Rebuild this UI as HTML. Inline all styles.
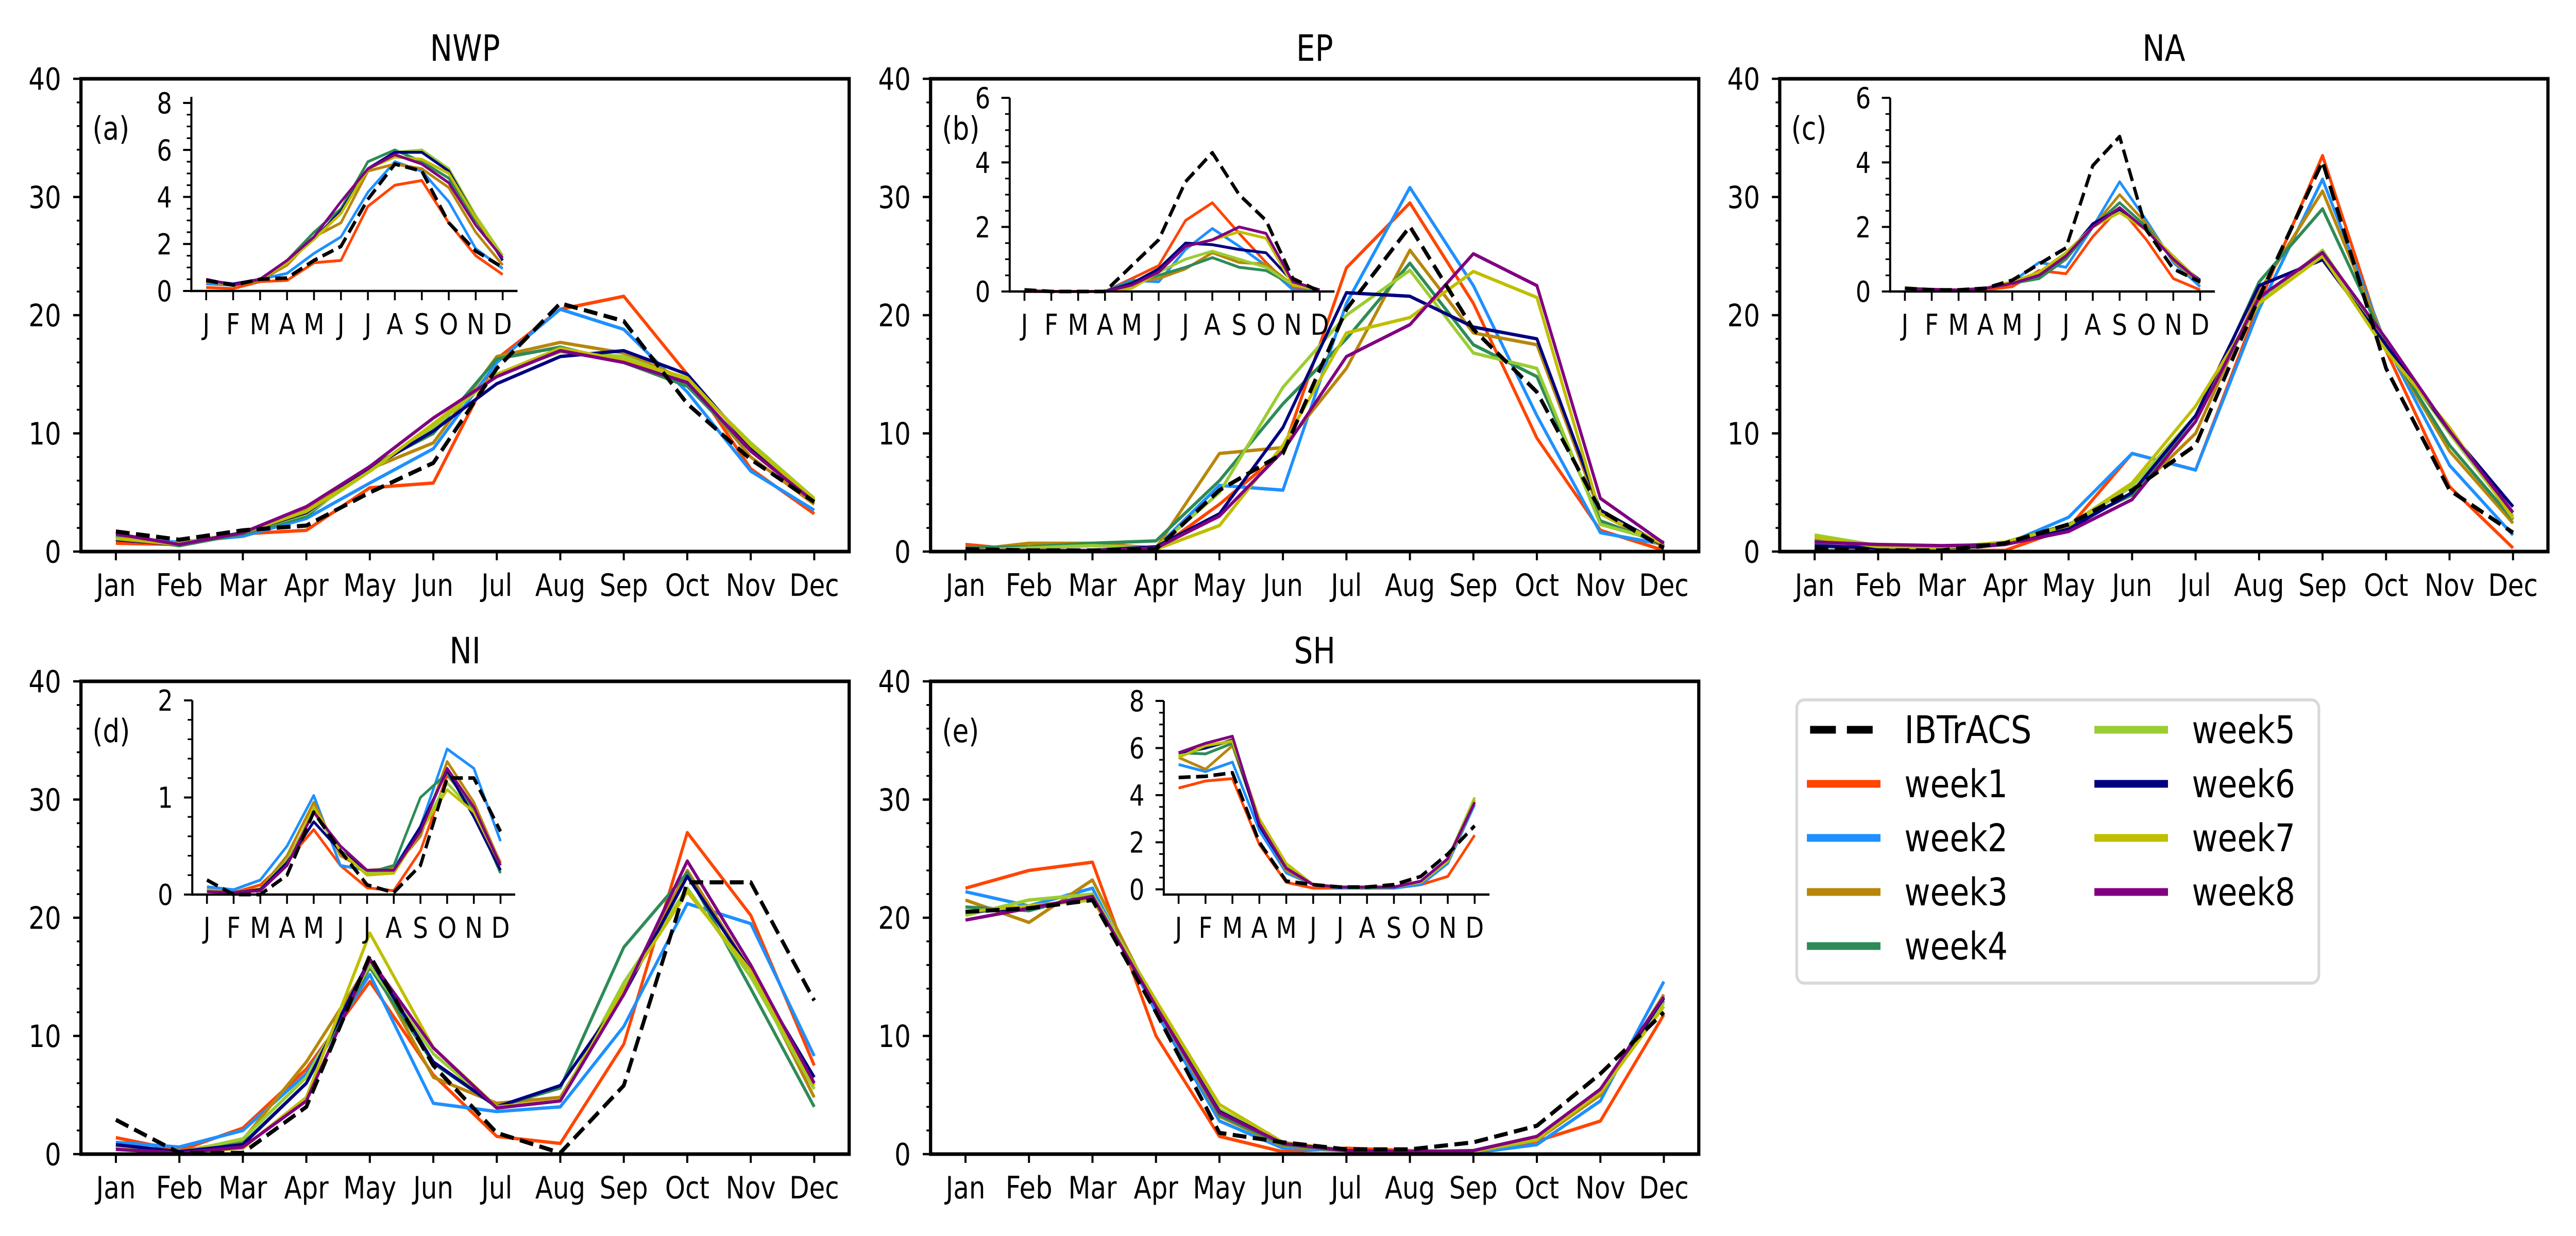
<!DOCTYPE html>
<html><head><meta charset="utf-8"><style>
html,body{margin:0;padding:0;background:#fff;width:100%;height:100%;overflow:hidden;}
svg{display:block;width:100vw;height:100vh;font-family:"DejaVu Sans","Liberation Sans",sans-serif;}
</style></head><body>
<svg id="fig" viewBox="0 0 5600 2400" preserveAspectRatio="none" xmlns="http://www.w3.org/2000/svg"></svg>
<script>
const months = ["Jan","Feb","Mar","Apr","May","Jun","Jul","Aug","Sep","Oct","Nov","Dec"];
const monthLetters = ["J","F","M","A","M","J","J","A","S","O","N","D"];
const seriesNames = ["IBTrACS","week1","week2","week3","week4","week5","week6","week7","week8"];
const seriesColors = ["#000000","#FF4500","#1E90FF","#B8860B","#2E8B57","#9ACD32","#000080","#BFBF00","#800080"];

// NWP main
const nwpIbt = [1.7,1.0,1.8,2.2,5.0,7.5,15.5,21,19.5,12.5,7.8,4.2];
const nwpW1 = [0.7,0.6,1.5,1.8,5.4,5.8,16.3,20.5,21.6,15,7,3.2];
const nwpW2 = [1.0,0.8,1.3,2.8,5.8,8.7,16,20.5,18.8,13.5,6.8,3.5];
const nwpW3 = [1.2,0.5,1.5,3.6,7.0,9.2,16.5,17.7,16.8,14.5,8,4];
const nwpW4 = [1.3,0.5,1.5,3.0,7.2,10,16.3,17.3,16,14,8.5,4.3];
const nwpW5 = [1.1,0.7,1.6,3.2,6.8,10.5,15,16.9,16.5,14.5,9.2,4.5];
const nwpW6 = [1.0,0.6,1.6,3.3,7,10.2,14.2,16.5,17,15,8.8,4.2];
const nwpW7 = [1.1,0.6,1.6,3.4,6.8,10.8,15,17.2,16.2,14.7,9,4.4];
const nwpW8 = [1.5,0.6,1.6,3.8,7.2,11.3,14.8,17,16,14.3,8.5,4.2];
// NWP inset
const nwpInIbt = [0.45,0.25,0.5,0.55,1.3,1.9,3.9,5.4,5.1,2.9,1.7,1.0];
const nwpInW1 = [0.15,0.1,0.4,0.45,1.2,1.3,3.6,4.5,4.7,2.9,1.5,0.7];
const nwpInW2 = [0.3,0.25,0.5,0.75,1.6,2.3,4.2,5.5,5.1,3.8,1.8,0.95];
const nwpInW3 = [0.4,0.25,0.45,1.1,2.3,2.9,5.1,5.4,5.2,4.4,2.5,1.1];
const nwpInW4 = [0.45,0.25,0.5,1.3,2.5,3.5,5.5,6.0,5.5,4.8,3.0,1.5];
const nwpInW5 = [0.45,0.25,0.5,1.3,2.3,3.3,5.2,5.9,6.0,5.2,3.2,1.5];
const nwpInW6 = [0.45,0.3,0.5,1.3,2.2,3.4,5.2,5.9,5.9,5.1,3.1,1.3];
const nwpInW7 = [0.45,0.25,0.5,1.2,2.2,3.3,5.2,5.7,5.6,5.0,3.1,1.4];
const nwpInW8 = [0.5,0.25,0.5,1.3,2.3,3.8,5.2,5.8,5.4,4.6,2.8,1.4];

// EP main
const epIbt = [0.2,0.1,0.1,0.2,5.2,8.3,20.5,27.5,18.8,13.5,3.5,0.3];
const epW1 = [0.6,0.1,0.1,0.1,4.0,8.5,24,29.5,21,9.6,1.8,0.1];
const epW2 = [0.1,0.1,0.1,0.3,5.6,5.2,21,30.8,22.5,11.5,1.6,0.6];
const epW3 = [0.1,0.7,0.7,0.3,8.3,8.8,15.5,25.5,18.5,17.5,3.2,0.4];
const epW4 = [0.3,0.4,0.7,0.9,6.0,12.5,18,24.4,17.5,14.8,2.6,0.6];
const epW5 = [0.1,0.3,0.5,0.3,5.0,13.9,20.0,23.8,16.8,15.5,2.3,0.8];
const epW6 = [0.1,0.1,0.1,0.4,3.2,10.5,21.9,21.6,19,18,3.5,0.5];
const epW7 = [0.1,0.1,0.1,0.2,2.2,9.0,18.5,19.8,23.7,21.5,3.2,0.6];
const epW8 = [0.1,0.1,0.1,0.3,3.0,8.5,16.5,19.2,25.2,22.5,4.5,0.7];
// EP inset
const epInIbt = [0.05,0,0,0,0.8,1.6,3.4,4.3,3.0,2.2,0.4,0];
const epInW1 = [0.05,0,0,0,0.4,0.8,2.2,2.75,1.8,0.9,0.1,0.02];
const epInW2 = [0,0,0,0,0.35,0.3,1.3,1.95,1.4,0.8,0.05,0.02];
const epInW3 = [0,0,0,0,0.3,0.4,0.7,1.2,0.9,0.85,0.2,0.05];
const epInW4 = [0,0,0,0,0.3,0.5,0.75,1.05,0.75,0.65,0.2,0.05];
const epInW5 = [0,0,0,0,0.2,0.6,1.0,1.25,1.0,0.75,0.2,0.05];
const epInW6 = [0,0,0,0,0.25,0.7,1.5,1.45,1.3,1.2,0.3,0.05];
const epInW7 = [0,0,0,0,0.1,0.6,1.4,1.6,1.85,1.65,0.2,0.05];
const epInW8 = [0,0,0,0,0.2,0.6,1.4,1.6,2.0,1.8,0.3,0.05];

// NA main
const naIbt = [0.3,0.1,0.1,0.7,2.3,5.2,9.0,21.5,33,15.5,5.2,1.6];
const naW1 = [0.1,0.1,0.1,0.1,2.0,8.3,6.9,21,33.5,17,5.5,0.3];
const naW2 = [0.1,0.1,0.1,0.6,2.9,8.3,6.9,20.5,31.5,17.5,7.3,1.4];
const naW3 = [0.5,0.2,0.2,0.6,2.2,4.8,10,22,30.5,17.5,8.5,2.4];
const naW4 = [1.0,0.4,0.3,0.8,2.3,4.8,11,22.8,29,17.5,9,2.7];
const naW5 = [1.4,0.5,0.3,0.8,2.2,5.5,11.5,21,25.5,17.5,10,3];
const naW6 = [0.5,0.3,0.3,0.6,1.9,5,11.5,22.5,24.7,17.5,10.2,3.8];
const naW7 = [1.2,0.4,0.3,0.8,2.2,5.8,12.3,21,25,17,10.5,2.8];
const naW8 = [0.8,0.6,0.5,0.6,1.7,4.4,11,21.5,25.3,18,10.2,3.3];
// NA inset
const naInIbt = [0.1,0.05,0.05,0.1,0.35,0.85,1.35,3.9,4.8,1.9,0.7,0.3];
const naInW1 = [0.1,0.02,0.02,0.05,0.15,0.65,0.55,1.7,2.6,1.6,0.4,0.05];
const naInW2 = [0.1,0.05,0.05,0.1,0.3,0.9,0.75,2.0,3.4,2.2,0.9,0.15];
const naInW3 = [0.1,0.05,0.05,0.1,0.25,0.55,1.0,2.0,3.0,2.1,0.95,0.25];
const naInW4 = [0.1,0.05,0.05,0.1,0.25,0.4,1.0,2.0,2.75,2.0,1.0,0.3];
const naInW5 = [0.12,0.05,0.05,0.1,0.25,0.5,1.2,2.0,2.5,1.9,1.0,0.3];
const naInW6 = [0.1,0.05,0.05,0.1,0.25,0.5,1.1,2.1,2.55,1.9,1.0,0.35];
const naInW7 = [0.1,0.05,0.05,0.1,0.3,0.6,1.2,2.0,2.45,1.9,1.1,0.3];
const naInW8 = [0.1,0.07,0.05,0.1,0.25,0.5,1.1,2.0,2.6,1.9,1.0,0.3];

// NI main
const niIbt = [2.9,0.1,0.1,4.0,16.8,7.5,1.8,0.1,5.8,23,23,13];
const niW1 = [1.4,0.3,2.2,7.2,14.6,6.7,1.5,0.9,9.3,27.2,20.2,7.5];
const niW2 = [1.0,0.6,2.0,6.8,15.2,4.3,3.6,4.0,10.8,21.2,19.5,8.3];
const niW3 = [0.7,0.2,1.2,7.8,16.2,6.5,4.3,4.8,13.5,24,15.5,4.8];
const niW4 = [0.6,0.2,0.9,6.0,15.8,7.7,4.0,5.6,17.5,23.8,14,4.0];
const niW5 = [0.5,0.1,1.3,6.5,16,8.5,3.9,4.5,14.5,22.5,15,5.5];
const niW6 = [0.8,0.2,0.8,6.0,16.5,7.8,4.0,5.8,13.5,23.5,15.5,6.5];
const niW7 = [0.4,0.1,0.5,4.8,18.7,9.0,4.0,4.5,14,22.2,15.5,5.8];
const niW8 = [0.4,0.1,0.6,4.5,16.5,9.0,3.9,4.5,13.5,24.8,16,6.0];
// NI inset
const niInIbt = [0.15,0.0,0.0,0.2,0.85,0.45,0.1,0.02,0.3,1.2,1.2,0.65];
const niInW1 = [0.07,0.02,0.1,0.35,0.67,0.3,0.07,0.04,0.45,1.23,0.9,0.33];
const niInW2 = [0.08,0.05,0.15,0.5,1.02,0.3,0.25,0.27,0.7,1.5,1.3,0.55];
const niInW3 = [0.05,0.02,0.06,0.4,0.95,0.4,0.25,0.27,0.6,1.37,0.95,0.32];
const niInW4 = [0.04,0.02,0.05,0.35,0.85,0.45,0.22,0.3,1.0,1.25,0.85,0.22];
const niInW5 = [0.05,0.02,0.05,0.35,0.85,0.45,0.22,0.22,0.65,1.15,0.85,0.25];
const niInW6 = [0.04,0.02,0.05,0.33,0.75,0.45,0.25,0.25,0.7,1.28,0.8,0.25];
const niInW7 = [0.04,0.02,0.04,0.3,0.9,0.45,0.2,0.22,0.65,1.08,0.85,0.3];
const niInW8 = [0.03,0.02,0.04,0.3,0.85,0.5,0.25,0.25,0.65,1.3,0.9,0.3];

// SH main
const shIbt = [20.5,20.8,21.5,12,1.8,1.0,0.4,0.4,1.0,2.4,6.8,12];
const shW1 = [22.5,24,24.7,10,1.5,0.2,0.5,0.3,0.2,1.1,2.8,11.8];
const shW2 = [22.2,21,22.5,12,2.8,0.5,0.3,0.2,0.1,0.8,4.5,14.6];
const shW3 = [21.5,19.6,23.2,12.5,3.2,0.7,0.3,0.2,0.2,1.2,5,13.5];
const shW4 = [20.9,20.6,22,12.8,3.3,0.8,0.3,0.2,0.2,1.3,5.5,13];
const shW5 = [20.2,21.5,22,13,3.8,0.9,0.3,0.2,0.2,1.2,5.5,12.8];
const shW6 = [20.5,20.8,21.8,12.5,3.6,0.9,0.3,0.2,0.2,1.3,5.2,13.2];
const shW7 = [20.5,21,21.5,13,4.2,1.0,0.3,0.2,0.2,1.3,5.2,12.5];
const shW8 = [19.8,20.8,21.8,12.5,3.5,0.9,0.3,0.2,0.3,1.5,5.5,13.3];
// SH inset
const shInIbt = [4.75,4.8,4.95,2.0,0.35,0.2,0.1,0.1,0.2,0.55,1.5,2.7];
const shInW1 = [4.3,4.6,4.7,1.9,0.3,0.05,0.05,0.1,0.05,0.2,0.55,2.3];
const shInW2 = [5.3,5.0,5.4,2.5,0.7,0.2,0.05,0.05,0.05,0.2,1.1,3.6];
const shInW3 = [5.6,5.1,6.1,2.8,0.8,0.2,0.1,0.05,0.1,0.3,1.2,3.7];
const shInW4 = [5.8,5.75,6.2,2.8,0.9,0.2,0.1,0.05,0.1,0.35,1.3,3.8];
const shInW5 = [5.7,6.0,6.3,2.9,1.0,0.2,0.1,0.1,0.1,0.3,1.3,3.9];
const shInW6 = [5.8,6.0,6.35,2.7,0.9,0.2,0.1,0.1,0.1,0.3,1.3,3.7];
const shInW7 = [5.6,6.1,6.3,3.0,1.1,0.2,0.1,0.1,0.1,0.3,1.2,3.8];
const shInW8 = [5.8,6.2,6.5,2.8,0.9,0.2,0.1,0.1,0.1,0.35,1.3,3.7];

const mainTickLabels = ["0","10","20","30","40"];
const nwpInTickLabels = ["0","2","4","6","8"];
const epInTickLabels = ["0","2","4","6"];
const naInTickLabels = ["0","2","4","6"];
const niInTickLabels = ["0","1","2"];
const shInTickLabels = ["0","2","4","6","8"];

const NS = "http://www.w3.org/2000/svg";
const svg = document.getElementById("fig");
function mk(tag, attrs, parent){
  const e = document.createElementNS(NS, tag);
  for (const k in attrs) e.setAttribute(k, attrs[k]);
  (parent||svg).appendChild(e);
  return e;
}
const DVW = {"0":.636,"1":.636,"2":.636,"3":.636,"4":.636,"5":.636,"6":.636,"7":.636,"8":.636,"9":.636,
  "J":.295,"a":.613,"n":.634,"F":.575,"e":.615,"b":.635,"M":.863,"r":.411,"A":.684,"p":.635,"y":.592,
  "u":.634,"l":.278,"g":.635,"S":.635,"O":.787,"c":.55,"t":.392,"N":.748,"o":.612,"v":.592,"D":.770,
  "W":.989,"P":.603,"E":.632,"H":.752,"I":.295,"B":.686,"T":.611,"C":.698,"w":.818,"k":.579,
  "(":.39,")":.39,"d":.635};
function setText(t, str, fs){
  t.textContent = str;
  let w = 0;
  for (const ch of str) w += (DVW[ch] || 0.6);
  t.setAttribute("textLength", (w*fs*0.93).toFixed(1));
  t.setAttribute("lengthAdjust", "spacingAndGlyphs");
}

const PW = 1670, PH = 918;
const panels = [
  {key:"nwp", title:"NWP", letter:"(a)", L:176, T:153, W:PW, H:PH,
   main:[nwpIbt,nwpW1,nwpW2,nwpW3,nwpW4,nwpW5,nwpW6,nwpW7,nwpW8],
   inset:{L:416,T:188,W:709,H:377,ymin:0,ymax:8.26,major:2,minor:0.5,labels:nwpInTickLabels,
     data:[nwpInIbt,nwpInW1,nwpInW2,nwpInW3,nwpInW4,nwpInW5,nwpInW6,nwpInW7,nwpInW8]}},
  {key:"ep", title:"EP", letter:"(b)", L:2023, T:153, W:PW, H:PH,
   main:[epIbt,epW1,epW2,epW3,epW4,epW5,epW6,epW7,epW8],
   inset:{L:2195,T:190,W:706,H:376,ymin:0,ymax:6,major:2,minor:0.5,labels:epInTickLabels,
     data:[epInIbt,epInW1,epInW2,epInW3,epInW4,epInW5,epInW6,epInW7,epInW8]}},
  {key:"na", title:"NA", letter:"(c)", L:3869, T:153, W:PW, H:PH,
   main:[naIbt,naW1,naW2,naW3,naW4,naW5,naW6,naW7,naW8],
   inset:{L:4109,T:190,W:706,H:376,ymin:0,ymax:6,major:2,minor:0.5,labels:naInTickLabels,
     data:[naInIbt,naInW1,naInW2,naInW3,naInW4,naInW5,naInW6,naInW7,naInW8]}},
  {key:"ni", title:"NI", letter:"(d)", L:176, T:1323, W:PW, H:PH,
   main:[niIbt,niW1,niW2,niW3,niW4,niW5,niW6,niW7,niW8],
   inset:{L:418,T:1360,W:702,H:377,ymin:0,ymax:2,major:1,minor:0.2,labels:niInTickLabels,
     data:[niInIbt,niInW1,niInW2,niInW3,niInW4,niInW5,niInW6,niInW7,niInW8]}},
  {key:"sh", title:"SH", letter:"(e)", L:2023, T:1323, W:PW, H:PH,
   main:[shIbt,shW1,shW2,shW3,shW4,shW5,shW6,shW7,shW8],
   inset:{L:2530,T:1361,W:708,H:376,ymin:-0.22,ymax:8,major:2,minor:0.5,labels:shInTickLabels,
     data:[shInIbt,shInW1,shInW2,shInW3,shInW4,shInW5,shInW6,shInW7,shInW8]}}
];

function drawAxes(g, ax, opts){
  const xs = i => ax.L + (i + 0.55) / 12.1 * ax.W;
  const ys = v => ax.T + ax.H - (v - ax.ymin) / (ax.ymax - ax.ymin) * ax.H;
  const order = [1,2,3,4,5,6,7,8,0];
  order.forEach(s => {
    const vals = ax.data[s];
    const pts = vals.map((v,i) => xs(i).toFixed(1) + "," + ys(v).toFixed(1)).join(" ");
    const pl = mk("polyline", {points:pts, fill:"none", stroke:seriesColors[s],
      "stroke-width": s===0 ? opts.dashW : opts.lineW, "stroke-linejoin":"round",
      "stroke-dasharray": s===0 ? opts.dash : "none"}, g);
    
    
  });
  const sp = opts.spine;
  if (opts.box) {
    const r = mk("rect", {x:ax.L, y:ax.T, width:ax.W, height:ax.H, fill:"none", stroke:"#000", "stroke-width":sp}, g);
    
    
  } else {
    const l1 = mk("line", {x1:ax.L, y1:ax.T, x2:ax.L, y2:ax.T+ax.H+sp/2, stroke:"#000", "stroke-width":sp}, g);
    
    
    const l2 = mk("line", {x1:ax.L-sp/2, y1:ax.T+ax.H, x2:ax.L+ax.W, y2:ax.T+ax.H, stroke:"#000", "stroke-width":sp}, g);
    
    
  }
  opts.xlabels.forEach((m,i) => {
    const x = xs(i);
    mk("line", {x1:x, y1:ax.T+ax.H, x2:x, y2:ax.T+ax.H+opts.tickLen, stroke:"#000", "stroke-width":opts.tickW}, g);
    const t = mk("text", {x:x, y:ax.T+ax.H+opts.xLabOff, "font-size":opts.fs, "text-anchor":"middle"}, g);
    setText(t, m, opts.fs);
    
    
  });
  const nMin = Math.round((ax.ymax - Math.max(ax.ymin,0)) / ax.minor);
  for (let k=0;k<=nMin;k++){
    const v = k*ax.minor;
    if (v > ax.ymax + 1e-9) break;
    const y = ys(v);
    mk("line", {x1:ax.L-opts.minorLen, y1:y, x2:ax.L, y2:y, stroke:"#000", "stroke-width":opts.tickW*0.8}, g);
  }
  ax.labels.forEach((lab,k) => {
    const v = k*ax.major;
    const y = ys(v);
    mk("line", {x1:ax.L-opts.tickLen, y1:y, x2:ax.L, y2:y, stroke:"#000", "stroke-width":opts.tickW}, g);
    const t = mk("text", {x:ax.L-opts.tickLen-opts.yLabGap, y:y+opts.fs*0.36, "font-size":opts.fs, "text-anchor":"end"}, g);
    setText(t, lab, opts.fs);
    
    
  });
}

panels.forEach(p => {
  const g = mk("g", {});
  
  
  const title = mk("text", {x:p.L+p.W/2, y:p.T-35, "font-size":70, "text-anchor":"middle"}, g);
  setText(title, p.title, 70);
  
  
  drawAxes(g, {L:p.L,T:p.T,W:p.W,H:p.H,ymin:0,ymax:40,major:10,minor:2,labels:mainTickLabels,data:p.main},
    {prefix:p.key+'-main', lineW:6.5, dashW:8, dash:"30 14", spine:7, box:true, tickLen:17, minorLen:9, tickW:4.5,
     fs:60, xLabOff:86, yLabGap:26, xlabels:months});
  const letter = mk("text", {x:p.L+25, y:p.T+118, "font-size":62}, g);
  setText(letter, p.letter, 62);
  
  
  const ig = mk("g", {}, g);
  
  
  const a = p.inset;
  drawAxes(ig, {L:a.L,T:a.T,W:a.W,H:a.H,ymin:a.ymin,ymax:a.ymax,major:a.major,minor:a.minor,labels:a.labels,data:a.data},
    {prefix:p.key+'-inset', lineW:5.5, dashW:7, dash:"26 12", spine:4.5, box:false, tickLen:18, minorLen:10, tickW:4,
     fs:56, xLabOff:84, yLabGap:24, xlabels:monthLetters});
});

const lg = mk("g", {});


const lb = mk("rect", {x:3906, y:1359, width:1135, height:550, rx:16, ry:16, fill:"#fff", stroke:"#d9d9d9", "stroke-width":6}, lg);


const rowsY = [1417,1522,1627,1732,1837];
seriesNames.forEach((n,s) => {
  const col = s < 5 ? 0 : 1;
  const row = s < 5 ? s : s-5;
  const x0 = col===0 ? 3928 : 4553;
  const y = rowsY[row];
  const e = mk("g", {}, lg);
  
  
  mk("line", {x1:x0 + (s===0?7:0), y1:y, x2:x0+160, y2:y, stroke:seriesColors[s], "stroke-width":15,
    "stroke-dasharray": s===0 ? "56 24" : "none"}, e);
  const t = mk("text", {x:x0+212, y:y+26, "font-size":74}, e);
  setText(t, n, 74);
});
</script>
</body></html>
